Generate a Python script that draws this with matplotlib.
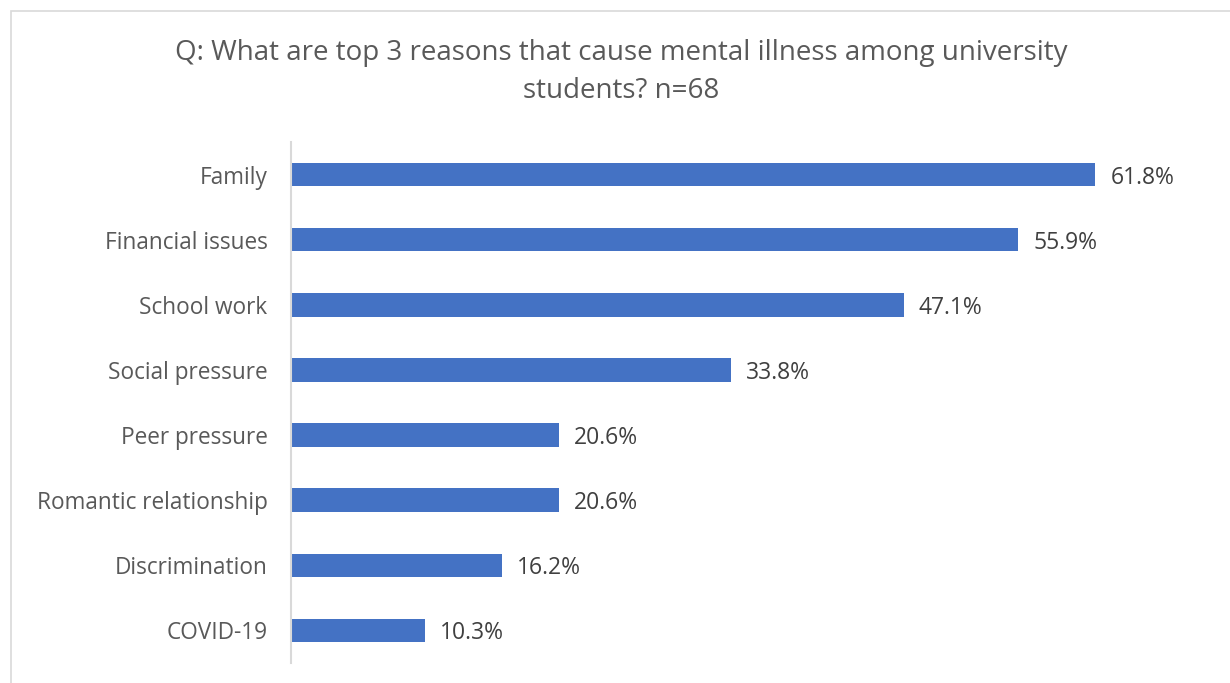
import matplotlib.pyplot as plt
from matplotlib.patches import Rectangle

plt.rcParams['font.family'] = ['Open Sans', 'DejaVu Sans']

# data
reasons = ['Family', 'Financial issues', 'School work', 'Social pressure',
           'Peer pressure', 'Romantic relationship', 'Discrimination', 'COVID-19']
shares = [61.8, 55.9, 47.1, 33.8, 20.6, 20.6, 16.2, 10.3]
title = 'Q: What are top 3 reasons that cause mental illness among university\nstudents? n=68'

W, H = 1230, 683
fig = plt.figure(figsize=(W / 100, H / 100), dpi=100)
ax = fig.add_axes([291 / W, 1 - 663 / H, (1202 - 291) / W, (663 - 142) / H])

y = range(len(reasons))
ax.barh(y, shares, height=0.36, color='#4472C4')
ax.set_xlim(0, 70)
ax.set_ylim(len(reasons) - 0.5, -0.5)
ax.set_yticks(list(y))
ax.set_yticklabels(reasons, fontsize=16.3, color='#595959')
ax.tick_params(axis='y', length=0, pad=17)
ax.set_xticks([])
for s in ['top', 'right', 'bottom']:
    ax.spines[s].set_visible(False)
ax.spines['left'].set_color('#d9d9d9')
ax.spines['left'].set_linewidth(1.5)

for i, v in enumerate(shares):
    ax.annotate(f'{v:.1f}%', (v, i), xytext=(10.8, 0), textcoords='offset points',
                va='center_baseline', ha='left', fontsize=16.5, color='#404040')

fig.text(621 / W, 1 - 72 / H, title, ha='center', va='center',
         fontsize=20, color='#595959', linespacing=1.5)

# chart border
fig.patches.append(Rectangle((11 / W, -0.1), 1.2, 1 - 11 / H + 0.1,
                             transform=fig.transFigure, fill=False,
                             edgecolor='#d9d9d9', linewidth=1.2))

fig.savefig('out.png', dpi=100, facecolor='white')
